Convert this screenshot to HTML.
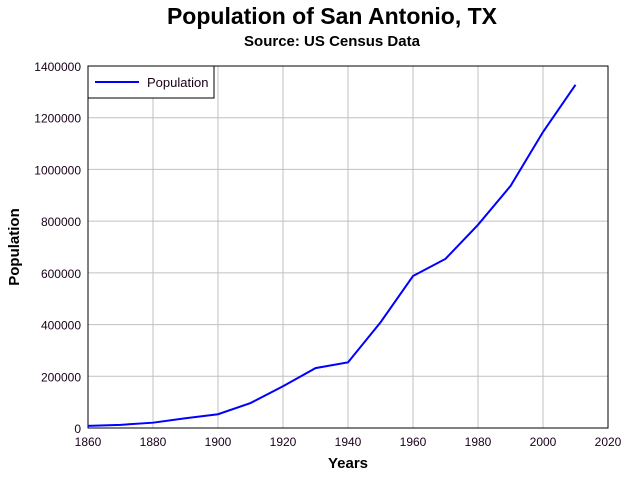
<!DOCTYPE html>
<html><head><meta charset="utf-8"><style>
body{margin:0;background:#fff;width:639px;height:480px;overflow:hidden}
text{font-family:"Liberation Sans",Arial,sans-serif}
</style></head><body>
<svg id="chart" width="639" height="480">
<text x="332" y="24" text-anchor="middle" font-size="23" font-weight="bold">Population of San Antonio, TX</text>
<text x="332" y="46" text-anchor="middle" font-size="15" font-weight="bold">Source: US Census Data</text>
<g id="grid"></g>
<rect x="88" y="66" width="520" height="362" fill="none" stroke="#000"/>
<g id="ticks"></g>
<polyline id="line" fill="none" stroke="#0000ff" stroke-width="2"/>
<text x="348" y="468" text-anchor="middle" font-size="15" font-weight="bold">Years</text>
<text transform="translate(19,247) rotate(-90)" text-anchor="middle" font-size="15" font-weight="bold">Population</text>
<g>
<rect x="88" y="66" width="126" height="32" fill="#fff" stroke="#000"/>
<line x1="95" y1="82" x2="139" y2="82" stroke="#0000ff" stroke-width="2"/>
<text x="147" y="87" font-size="13" fill="#1a001a">Population</text>
</g>
</svg>
<script>
const years=[1860,1870,1880,1890,1900,1910,1920,1930,1940,1950,1960,1970,1980,1990,2000,2010];
const population=[8235,12256,20550,37673,53321,96614,161379,231542,253854,408442,587718,654153,785880,935933,1144646,1327407];
const xTicks=[1860,1880,1900,1920,1940,1960,1980,2000,2020];
const yTicks=[0,200000,400000,600000,800000,1000000,1200000,1400000];
const NS="http://www.w3.org/2000/svg";
const X=v=>88+(v-1860)/160*520;
const Y=v=>428-v/1400000*362;
const grid=document.getElementById('grid'),ticks=document.getElementById('ticks');
function mk(tag,attrs,parent){const e=document.createElementNS(NS,tag);for(const k in attrs)e.setAttribute(k,attrs[k]);parent.appendChild(e);return e;}
xTicks.forEach(t=>{
 const g=mk('line',{x1:X(t),x2:X(t),y1:66,y2:428,stroke:'#c0c0c0'},grid);
 
 
 const l=mk('text',{x:X(t),y:446,'text-anchor':'middle','font-size':12,fill:'#1a001a'},ticks);l.textContent=t;
 
 
});
yTicks.forEach(t=>{
 const g=mk('line',{x1:88,x2:608,y1:Y(t),y2:Y(t),stroke:'#c0c0c0'},grid);
 
 
 const l=mk('text',{x:81,y:Y(t)+5,'text-anchor':'end','font-size':12,fill:'#1a001a'},ticks);l.textContent=t;
 
 
});
document.getElementById('line').setAttribute('points',years.map((y,i)=>X(y)+','+Y(population[i])).join(' '));
</script>
</body></html>
